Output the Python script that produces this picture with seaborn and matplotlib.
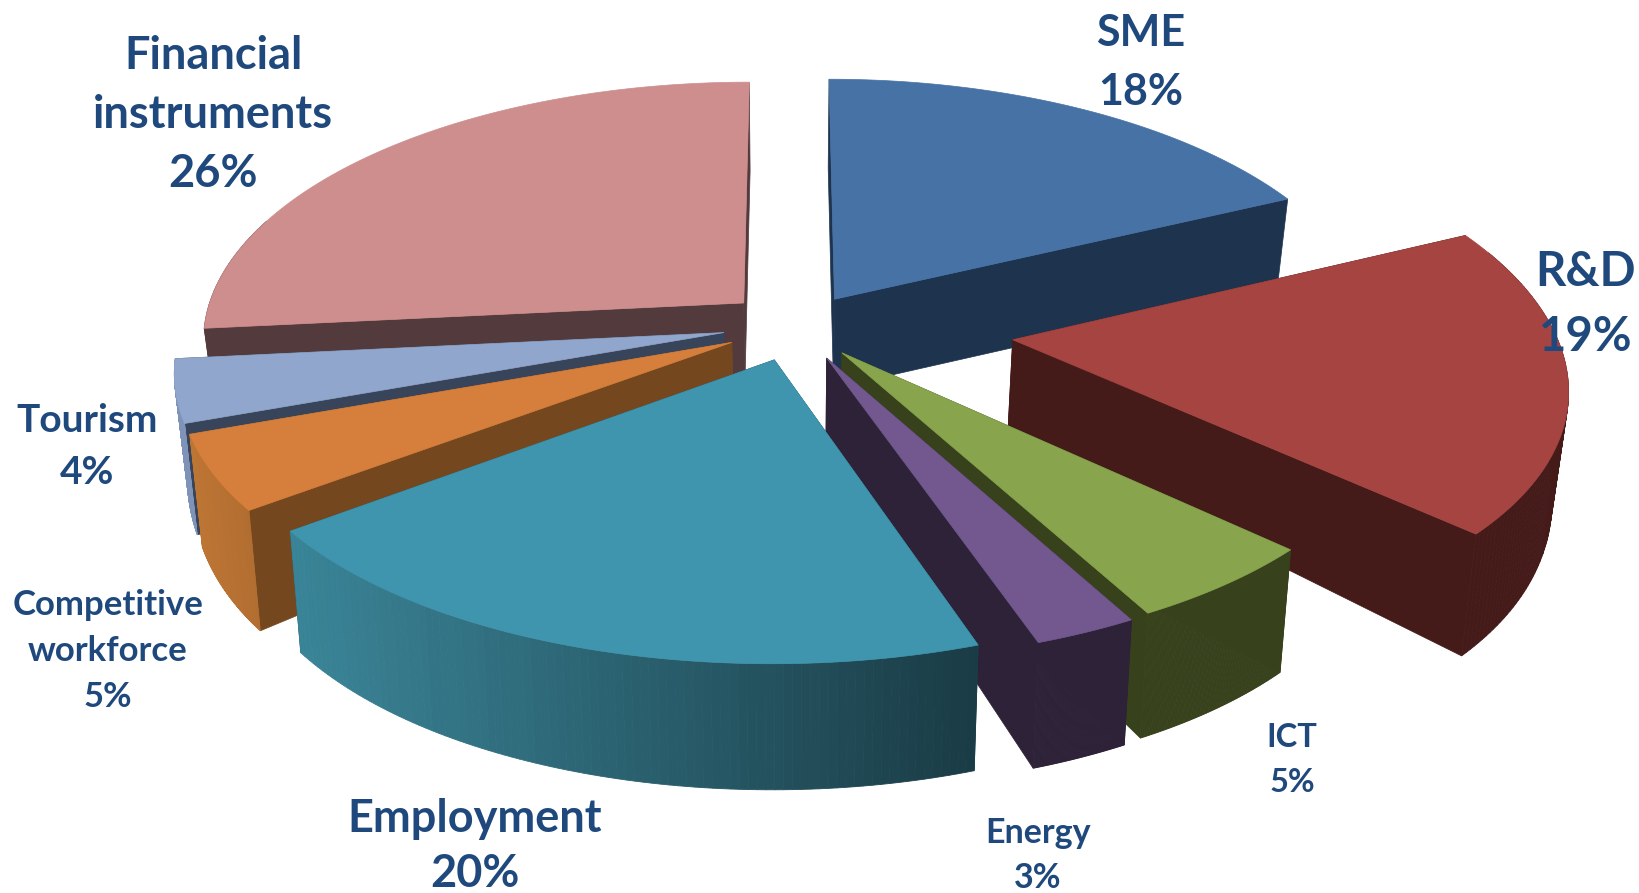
import numpy as np
import matplotlib
matplotlib.use('Agg')
import matplotlib.pyplot as plt
import seaborn as sns

# slices clockwise from 12 o'clock; labels print the rounded percentages
sectores = ['SME', 'R&D', 'ICT', 'Energy', 'Employment', 'Competitive\nworkforce', 'Tourism', 'Financial\ninstruments']
porcentajes = [18, 19, 5, 3, 20, 5, 4, 26]
valores = [18, 19, 5.1, 2.65, 20.05, 4.7, 3.9, 26.6]
desp_x = [0.085, 0.41, 0.096, 0.068, -0.027, -0.105, -0.12, -0.085]
desp_y = [0.14, -0.02, -0.07, -0.09, -0.097, -0.03, 0.008, 0.125]
color_top = ['#4672a6', '#a64441', '#88a44d', '#72588e', '#4095ae', '#d67f3c', '#90a6cc', '#ce8e8e']
color_lado = ['#1e334d', '#451b1a', '#37411c', '#2d2238', '#1b3f49', '#75471f', '#38445a', '#533a3c']
rim_izq = ['#1e334d', '#451b1a', '#37411c', '#2d2238', '#3a8497', '#bd7534', '#7f93b8', '#533a3c']
rim_der = ['#1e334d', '#451b1a', '#37411c', '#2d2238', '#1a3c46', '#b06c30', '#7f93b8', '#533a3c']
orden = [7, 0, 1, 6, 5, 2, 3, 4]

# label x, y of first line, line pitch, font size
etq_x = [1091, 1517, 1236, 993, 454, 103, 83, 204]
etq_y = [32, 260, 705, 797, 783, 579, 402, 54]
etq_paso = [56, 62, 43, 43, 53, 44, 50, 56]
etq_size = [31, 34, 23.5, 24.5, 32.5, 25, 28, 32.5]

CX, CY = 755, 320
A, B, KX, KY = 520, 246, 0.14, 0.13


def proy(x, y, bajo=False):
    px, py = CX + A * x / (1 + KX * y), CY - B * y / (1 + KY * y)
    if bajo:
        px = CX + (px - CX) * 0.979
        py = py + 85 + 38 * (1 - np.exp(2.5 * np.minimum(y, 0)))
    return px, py


sns.set_theme(style='white')
plt.rcParams['font.family'] = ['Lato', 'DejaVu Sans']

fig, ax = plt.subplots(figsize=(16.39, 8.93), dpi=100)
ax.set_position([0, 0, 1, 1])
ax.set_xlim(0, 1568)
ax.set_ylim(854, 0)
ax.axis('off')

limites = np.cumsum([0] + valores) / sum(valores) * 2 * np.pi

for i in orden:
    ex, ey = desp_x[i], desp_y[i]
    th = np.linspace(limites[i], limites[i + 1], 90)
    xr, yr = ex + np.sin(th), ey + np.cos(th)
    sx, sy = proy(xr, yr)
    bx, by = proy(xr, yr, True)
    ax0, ay0 = proy(ex, ey)
    bx0, by0 = proy(ex, ey, True)
    capa = orden.index(i) * 10

    # radial walls
    for k in (0, -1):
        ax.fill([ax0, sx[k], bx[k], bx0], [ay0, sy[k], by[k], by0],
                color=color_lado[i], lw=0.5, zorder=capa + 1)

    # rim wall, shaded left to right
    tonos = sns.blend_palette([rim_izq[i], rim_der[i]], 60)
    xmin, xmax = min(sx.min(), bx.min()), max(sx.max(), bx.max())
    for j in range(len(th) - 1):
        if np.cos((th[j] + th[j + 1]) / 2) > 0.35:
            continue
        t = ((sx[j] + sx[j + 1]) / 2 - xmin) / (xmax - xmin)
        c = tonos[min(int(t * 60), 59)]
        ax.fill([sx[j], sx[j + 1], bx[j + 1], bx[j]], [sy[j], sy[j + 1], by[j + 1], by[j]],
                color=c, lw=0.6, zorder=capa + 2)

    # top face
    ax.fill(np.r_[ax0, sx], np.r_[ay0, sy], color=color_top[i], lw=0.5, zorder=capa + 3)

    # labels
    lineas = sectores[i].split('\n') + ['%d%%' % porcentajes[i]]
    for n, linea in enumerate(lineas):
        ax.text(etq_x[i], etq_y[i] + n * etq_paso[i], linea, color='#1f497d', fontsize=etq_size[i],
                fontweight='bold', ha='center', va='center', zorder=200)

fig.savefig('out.png', dpi=100, facecolor='white')
